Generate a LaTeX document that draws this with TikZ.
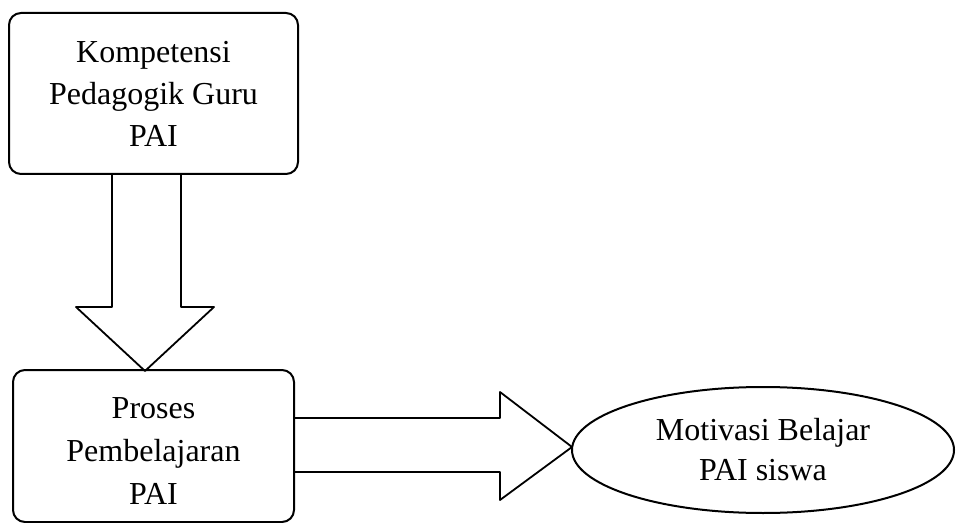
\documentclass[tikz,border=0pt]{standalone}
\usepackage{fontspec}
\setmainfont{Liberation Serif}
\usetikzlibrary{shapes.geometric}
\tikzset{
  every picture/.style={line join=round, line cap=round},
  box/.style={draw, line width=1pt, rounded corners=6pt, align=center,
    font=\fontsize{16}{21}\selectfont},
  oval/.style={draw, ellipse, line width=1pt, align=center, inner sep=0pt,
    font=\fontsize{16}{20}\selectfont},
  blockarrow/.style={draw, line width=0.9pt},
}
\begin{document}
\begin{tikzpicture}[x=0.5pt,y=-0.5pt]
\useasboundingbox (0,0) rectangle (957,523);
\node[box, minimum width=144.5pt, minimum height=80.5pt] (komp) at (153.5,93.5)
  {Kompetensi\\Pedagogik Guru\\PAI};
\node[box, minimum width=140.5pt, minimum height=76pt,
  font=\fontsize{16}{21.5}\selectfont] (proses) at (153.5,446)
  {\rule{0pt}{15pt}Proses\\Pembelajaran\\PAI};
\node[oval, minimum width=191pt, minimum height=63pt] (motivasi) at (763,450)
  {Motivasi Belajar\\PAI siswa};
% block arrow: kompetensi -> proses
\draw[blockarrow] (112,174) -- (112,307) -- (76,307) -- (145,371)
  -- (214,307) -- (181,307) -- (181,174);
% block arrow: proses -> motivasi
\draw[blockarrow] (294,418) -- (500,418) -- (500,392) -- (572,447)
  -- (500,500) -- (500,472) -- (294,472);
\end{tikzpicture}
\end{document}
